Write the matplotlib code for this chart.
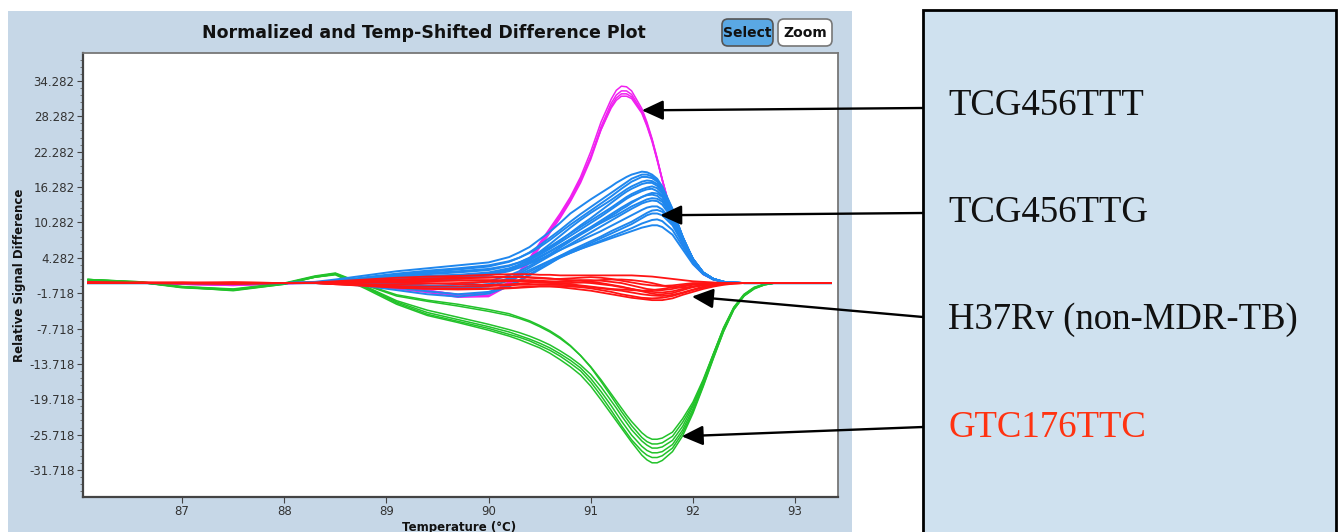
import matplotlib
matplotlib.use("Agg")
import matplotlib.pyplot as plt
from matplotlib.patches import Rectangle, FancyBboxPatch
from matplotlib.ticker import FixedLocator, AutoMinorLocator, FormatStrFormatter

# temperature grid (deg C) shared by all traces
temps = [86.08, 86.6, 87.0, 87.5, 88.0, 88.3, 88.5, 88.8, 89.1, 89.4, 89.7, 90.0, 90.2, 90.3,
         90.4, 90.5, 90.6, 90.7, 90.8, 90.9, 91.0, 91.1,
         91.2, 91.25, 91.3, 91.35, 91.4, 91.5, 91.55, 91.6, 91.65, 91.7,
         91.8, 91.9, 92.0, 92.1, 92.2, 92.3, 92.4, 92.5, 92.6, 92.7, 92.8, 93.0, 93.35]

# TCG456TTT (magenta)
m1 = [0.2, 0.0, -0.2, -0.4, -0.1, 0.1, 0.1, -0.2, -0.6, -1.2, -2.0, -1.8, 0.2, 2.0, 4.2, 6.8, 9.3, 11.8, 14.6, 18.0, 22.3, 27.3,
      31.2, 32.7, 33.4, 33.3, 32.6, 29.6, 27.3, 24.5, 21.2, 17.5,
      11.0, 6.5, 3.3, 1.5, 0.6, 0.2, 0.05, 0.0, 0.0, 0.0, 0.0, 0.0, 0.0]
m2 = [0.1, 0.0, -0.2, -0.3, -0.1, 0.0, 0.1, -0.3, -0.8, -1.4, -2.2, -2.1, -0.2, 1.6, 3.8, 6.3, 8.8, 11.3, 14.0, 17.4, 21.5, 26.5,
      30.5, 31.9, 32.6, 32.6, 32.0, 29.2, 27.0, 24.3, 21.0, 17.5,
      11.1, 6.6, 3.4, 1.5, 0.6, 0.2, 0.05, 0.0, 0.0, 0.0, 0.0, 0.0, 0.0]
m3 = [0.2, 0.1, -0.1, -0.3, 0.0, 0.1, 0.0, -0.4, -1.0, -1.6, -2.4, -2.3, -0.4, 1.4, 3.5, 6.0, 8.5, 11.0, 13.8, 17.0, 21.0, 26.0,
      30.0, 31.4, 32.1, 32.1, 31.6, 29.0, 26.8, 24.2, 21.0, 17.6,
      11.2, 6.7, 3.4, 1.6, 0.6, 0.2, 0.05, 0.0, 0.0, 0.0, 0.0, 0.0, 0.0]
m4 = [0.1, 0.0, -0.2, -0.4, -0.1, 0.0, 0.1, -0.2, -0.7, -1.3, -1.9, -1.7, 0.0, 1.8, 4.0, 6.5, 9.0, 11.5, 14.3, 17.6, 21.4, 26.0,
      29.7, 31.0, 31.7, 31.7, 31.3, 28.8, 26.6, 24.0, 20.8, 17.4,
      11.0, 6.5, 3.3, 1.5, 0.6, 0.2, 0.05, 0.0, 0.0, 0.0, 0.0, 0.0, 0.0]

# TCG456TTG (blue)
b1 = [0.0, 0.0, 0.0, -0.1, 0.0, 0.2, 0.6, 1.3, 2.0, 2.5, 3.0, 3.5, 4.4, 5.2, 6.1, 7.4, 8.7, 10.2, 11.8, 13.0, 14.2, 15.3,
      16.4, 17.0, 17.5, 18.0, 18.4, 18.9, 18.8, 18.4, 17.7, 16.4,
      12.6, 7.8, 3.9, 1.6, 0.6, 0.2, 0.05, 0.0, 0.0, 0.0, 0.0, 0.0, 0.0]
b2 = [0.0, 0.0, 0.0, 0.0, 0.0, 0.1, 0.4, 1.0, 1.6, 2.1, 2.5, 3.0, 3.7, 4.3, 5.1, 6.1, 7.3, 8.6, 9.9, 11.1, 12.3, 13.5,
      14.7, 15.35, 16.0, 16.6, 17.2, 18.0, 18.0, 17.8, 17.2, 16.0,
      12.3, 7.8, 4.0, 1.7, 0.7, 0.2, 0.05, 0.0, 0.0, 0.0, 0.0, 0.0, 0.0]
b3 = [0.0, 0.0, 0.0, 0.0, 0.0, 0.1, 0.3, 0.8, 1.3, 1.7, 2.0, 2.4, 3.0, 3.5, 4.2, 5.0, 6.0, 7.2, 8.5, 9.8, 11.0, 12.3,
      13.6, 14.25, 14.9, 15.5, 16.0, 16.8, 17.0, 17.0, 16.5, 15.5,
      12.1, 7.8, 4.1, 1.8, 0.7, 0.2, 0.05, 0.0, 0.0, 0.0, 0.0, 0.0, 0.0]
b4 = [0.0, 0.0, 0.0, 0.0, 0.0, 0.0, 0.2, 0.5, 0.9, 1.2, 1.4, 1.8, 2.5, 3.1, 3.9, 4.8, 5.8, 6.9, 8.0, 9.1, 10.2, 11.3,
      12.5, 13.1, 13.7, 14.3, 14.8, 15.6, 15.9, 16.0, 15.6, 14.8,
      11.7, 7.6, 4.1, 1.8, 0.7, 0.2, 0.05, 0.0, 0.0, 0.0, 0.0, 0.0, 0.0]
b5 = [0.0, 0.0, 0.0, 0.0, 0.0, 0.0, 0.1, 0.3, 0.5, 0.7, 0.9, 1.3, 2.0, 2.6, 3.4, 4.3, 5.3, 6.3, 7.4, 8.5, 9.5, 10.6,
      11.7, 12.25, 12.8, 13.3, 13.8, 14.6, 14.9, 15.0, 14.8, 14.1,
      11.4, 7.5, 4.1, 1.8, 0.7, 0.2, 0.05, 0.0, 0.0, 0.0, 0.0, 0.0, 0.0]
b6 = [0.0, 0.0, 0.0, 0.0, 0.0, 0.0, 0.0, -0.2, -0.5, -0.8, -0.8, -0.2, 0.8, 1.6, 2.6, 3.6, 4.6, 5.6, 6.6, 7.6, 8.6, 9.6,
      10.6, 11.1, 11.6, 12.1, 12.6, 13.5, 13.8, 14.0, 13.9, 13.3,
      10.9, 7.2, 4.0, 1.8, 0.7, 0.2, 0.05, 0.0, 0.0, 0.0, 0.0, 0.0, 0.0]
b7 = [0.0, 0.0, 0.0, 0.0, 0.0, 0.1, 0.3, 0.7, 1.0, 1.2, 1.3, 1.6, 2.2, 2.7, 3.3, 4.0, 4.8, 5.6, 6.4, 7.2, 8.0, 8.8,
      9.7, 10.15, 10.6, 11.05, 11.5, 12.4, 12.8, 13.0, 13.0, 12.5,
      10.4, 7.0, 3.9, 1.8, 0.7, 0.2, 0.05, 0.0, 0.0, 0.0, 0.0, 0.0, 0.0]
b8 = [0.0, 0.0, 0.0, 0.0, 0.0, 0.0, 0.1, 0.1, -0.1, -0.4, -0.6, -0.2, 0.7, 1.4, 2.2, 3.0, 3.8, 4.6, 5.3, 6.0, 6.8, 7.6,
      8.4, 8.8, 9.2, 9.6, 10.0, 11.0, 11.5, 11.8, 11.8, 11.5,
      9.8, 6.7, 3.8, 1.7, 0.7, 0.2, 0.05, 0.0, 0.0, 0.0, 0.0, 0.0, 0.0]
b9 = [0.0, 0.0, 0.0, 0.0, 0.0, 0.0, 0.0, -0.3, -0.8, -1.4, -1.9, -1.5, -0.4, 0.5, 1.5, 2.5, 3.4, 4.3, 5.1, 5.8, 6.5, 7.2,
      7.9, 8.25, 8.6, 8.95, 9.3, 10.1, 10.4, 10.7, 10.8, 10.5,
      9.0, 6.2, 3.5, 1.6, 0.6, 0.2, 0.05, 0.0, 0.0, 0.0, 0.0, 0.0, 0.0]
b10 = [0.0, 0.0, 0.0, 0.0, 0.0, 0.0, -0.1, -0.5, -1.2, -1.9, -2.3, -1.8, -0.6, 0.3, 1.3, 2.3, 3.3, 4.4, 5.1, 5.8, 6.4, 7.0,
       7.6, 7.9, 8.2, 8.5, 8.8, 9.4, 9.6, 9.8, 9.8, 9.5,
       8.2, 5.7, 3.2, 1.5, 0.6, 0.2, 0.05, 0.0, 0.0, 0.0, 0.0, 0.0, 0.0]
b11 = [0.0, 0.0, 0.0, 0.0, 0.0, 0.1, 0.3, 0.8, 1.4, 1.9, 2.3, 2.8, 3.6, 4.3, 5.2, 6.4, 7.7, 9.0, 10.4, 11.7, 12.9, 14.1,
       15.3, 15.9, 16.5, 17.1, 17.7, 18.4, 18.4, 18.1, 17.4, 16.2,
       12.5, 7.8, 4.0, 1.7, 0.7, 0.2, 0.05, 0.0, 0.0, 0.0, 0.0, 0.0, 0.0]
b12 = [0.0, 0.0, 0.0, 0.0, 0.0, 0.0, 0.0, 0.1, 0.2, 0.4, 0.7, 1.3, 2.3, 3.1, 4.1, 5.3, 6.6, 8.0, 9.4, 10.7, 11.9, 13.0,
       14.1, 14.7, 15.3, 15.9, 16.4, 17.2, 17.4, 17.3, 16.8, 15.8,
       12.3, 7.8, 4.0, 1.7, 0.7, 0.2, 0.05, 0.0, 0.0, 0.0, 0.0, 0.0, 0.0]
b13 = [0.0, 0.0, 0.0, 0.0, 0.0, 0.0, 0.2, 0.6, 1.1, 1.5, 1.8, 2.2, 2.9, 3.5, 4.3, 5.2, 6.2, 7.3, 8.4, 9.5, 10.6, 11.7,
       12.8, 13.4, 14.0, 14.6, 15.1, 15.9, 16.2, 16.4, 16.1, 15.2,
       12.0, 7.7, 4.1, 1.8, 0.7, 0.2, 0.05, 0.0, 0.0, 0.0, 0.0, 0.0, 0.0]
b14 = [0.0, 0.0, 0.0, 0.0, 0.0, 0.0, -0.1, -0.3, -0.5, -0.5, -0.3, 0.3, 1.3, 2.0, 2.9, 3.9, 4.9, 6.0, 7.1, 8.2, 9.2, 10.3,
       11.4, 11.9, 12.5, 13.0, 13.6, 14.6, 15.0, 15.3, 15.2, 14.6,
       11.6, 7.5, 4.1, 1.8, 0.7, 0.2, 0.05, 0.0, 0.0, 0.0, 0.0, 0.0, 0.0]
b15 = [0.0, 0.0, 0.0, 0.0, 0.0, 0.0, 0.2, 0.5, 0.8, 1.0, 1.1, 1.5, 2.2, 2.8, 3.6, 4.5, 5.4, 6.4, 7.4, 8.4, 9.3, 10.2,
       11.1, 11.5, 12.0, 12.5, 13.0, 13.8, 14.2, 14.4, 14.3, 13.8,
       11.1, 7.3, 4.0, 1.8, 0.7, 0.2, 0.05, 0.0, 0.0, 0.0, 0.0, 0.0, 0.0]
b16 = [0.0, 0.0, 0.0, 0.0, 0.0, 0.0, 0.0, -0.1, -0.3, -0.6, -0.9, -0.6, 0.4, 1.1, 1.9, 2.8, 3.7, 4.6, 5.5, 6.3, 7.1, 7.9,
       8.8, 9.2, 9.6, 10.0, 10.4, 11.4, 11.9, 12.3, 12.4, 12.1,
       10.1, 6.9, 3.8, 1.7, 0.7, 0.2, 0.05, 0.0, 0.0, 0.0, 0.0, 0.0, 0.0]

# H37Rv (red)
r1 = [0.1, 0.0, 0.0, 0.1, 0.0, 0.1, 0.3, 0.6, 0.9, 1.1, 1.2, 1.4, 1.5, 1.5, 1.5, 1.4, 1.4, 1.3, 1.3, 1.3, 1.3, 1.3,
      1.3, 1.3, 1.3, 1.3, 1.3, 1.2, 1.15, 1.1, 1.0, 0.9,
      0.7, 0.5, 0.3, 0.2, 0.1, 0.0, 0.0, 0.0, 0.0, 0.0, 0.0, 0.0, 0.0]
r2 = [0.0, 0.1, 0.1, 0.0, 0.0, 0.0, 0.1, 0.3, 0.5, 0.6, 0.8, 0.9, 1.0, 1.0, 0.9, 0.8, 0.7, 0.7, 0.8, 0.9, 1.0, 0.9,
      0.7, 0.55, 0.4, 0.25, 0.1, -0.2, -0.3, -0.4, -0.45, -0.5,
      -0.4, -0.2, 0.0, 0.0, 0.0, 0.0, 0.0, 0.0, 0.0, 0.0, 0.0, 0.0, 0.0]
r3 = [0.1, 0.0, -0.1, -0.1, 0.0, 0.0, 0.0, 0.1, 0.2, 0.3, 0.4, 0.4, 0.5, 0.5, 0.5, 0.4, 0.3, 0.2, 0.2, 0.1, 0.0, -0.2,
      -0.4, -0.55, -0.7, -0.85, -1.0, -1.3, -1.4, -1.5, -1.55, -1.6,
      -1.4, -1.0, -0.6, -0.3, -0.1, 0.0, 0.0, 0.0, 0.0, 0.0, 0.0, 0.0, 0.0]
r4 = [0.0, 0.0, 0.0, 0.1, 0.0, 0.0, -0.1, -0.2, -0.2, -0.1, 0.0, 0.2, 0.3, 0.3, 0.3, 0.2, 0.1, 0.0, 0.0, 0.1, 0.3, 0.5,
      0.6, 0.6, 0.6, 0.55, 0.5, 0.3, 0.15, 0.0, -0.2, -0.4,
      -0.7, -0.8, -0.6, -0.3, -0.1, 0.0, 0.0, 0.0, 0.0, 0.0, 0.0, 0.0, 0.0]
r5 = [0.1, 0.0, 0.0, -0.1, 0.0, 0.0, -0.1, -0.3, -0.5, -0.6, -0.6, -0.5, -0.4, -0.3, -0.3, -0.2, -0.2, -0.3, -0.4, -0.5, -0.7, -0.9,
      -1.1, -1.2, -1.3, -1.45, -1.6, -1.9, -2.0, -2.1, -2.15, -2.2,
      -2.0, -1.6, -1.1, -0.6, -0.3, -0.1, 0.0, 0.0, 0.0, 0.0, 0.0, 0.0, 0.0]
r6 = [0.0, 0.1, 0.0, -0.1, 0.0, 0.0, 0.0, 0.1, 0.3, 0.4, 0.5, 0.5, 0.4, 0.3, 0.2, 0.1, 0.0, -0.1, -0.2, -0.4, -0.6, -0.8,
      -1.0, -1.05, -1.1, -1.15, -1.2, -1.3, -1.25, -1.2, -1.1, -1.0,
      -0.7, -0.4, -0.2, -0.1, 0.0, 0.0, 0.0, 0.0, 0.0, 0.0, 0.0, 0.0, 0.0]
r7 = [0.1, 0.0, 0.0, 0.0, 0.0, 0.0, -0.2, -0.4, -0.7, -0.9, -1.0, -0.9, -0.8, -0.7, -0.6, -0.5, -0.5, -0.5, -0.6, -0.7, -0.9, -1.2,
      -1.5, -1.7, -1.9, -2.05, -2.2, -2.5, -2.55, -2.6, -2.55, -2.5,
      -2.2, -1.7, -1.2, -0.8, -0.4, -0.2, -0.1, 0.0, 0.0, 0.0, 0.0, 0.0, 0.0]
r8 = [0.0, 0.0, 0.1, 0.0, 0.0, 0.0, -0.2, -0.5, -0.8, -1.0, -1.1, -1.0, -0.9, -0.8, -0.7, -0.6, -0.6, -0.7, -0.9, -1.1, -1.3, -1.6,
      -1.9, -2.05, -2.2, -2.35, -2.5, -2.7, -2.8, -2.9, -2.9, -2.9,
      -2.6, -2.0, -1.5, -1.0, -0.6, -0.3, -0.1, 0.0, 0.0, 0.0, 0.0, 0.0, 0.0]
r9 = [0.0, 0.0, 0.0, 0.1, 0.0, 0.0, 0.1, 0.2, 0.1, 0.0, -0.2, -0.3, -0.2, -0.1, 0.0, 0.1, 0.2, 0.3, 0.4, 0.5, 0.5, 0.4,
      0.2, 0.1, 0.0, -0.2, -0.4, -0.8, -1.0, -1.1, -1.2, -1.2,
      -1.0, -0.6, -0.3, -0.1, 0.0, 0.0, 0.0, 0.0, 0.0, 0.0, 0.0, 0.0, 0.0]
r10 = [0.1, 0.0, 0.0, 0.0, 0.0, 0.0, 0.2, 0.4, 0.6, 0.8, 0.9, 1.0, 1.1, 1.1, 1.0, 0.9, 0.8, 0.6, 0.5, 0.4, 0.2, 0.0,
       -0.3, -0.45, -0.6, -0.8, -1.0, -1.4, -1.6, -1.8, -1.9, -1.9,
       -1.7, -1.2, -0.7, -0.4, -0.2, -0.1, 0.0, 0.0, 0.0, 0.0, 0.0, 0.0, 0.0]

# GTC176TTC (green)
g1 = [0.6, 0.1, -0.7, -1.1, -0.1, 1.1, 1.6, -0.4, -2.2, -3.1, -3.9, -4.8, -5.5, -6.0, -6.6, -7.4, -8.3, -9.4, -10.7, -12.3, -14.2, -16.4,
      -18.8, -20.0, -21.2, -22.4, -23.5, -25.4, -26.1, -26.5, -26.5, -26.3,
      -25.3, -23.0, -20.2, -16.4, -12.0, -7.6, -4.2, -2.0, -0.8, -0.2, 0.0, 0.0, 0.0]
g2 = [0.5, 0.1, -0.6, -1.0, 0.0, 1.2, 1.7, -0.3, -2.0, -2.9, -3.6, -4.5, -5.2, -5.8, -6.4, -7.2, -8.1, -9.2, -10.6, -12.3, -14.3, -16.7,
      -19.2, -20.5, -21.8, -23.0, -24.2, -26.2, -26.9, -27.3, -27.3, -27.1,
      -26.0, -23.6, -20.6, -16.7, -12.1, -7.6, -4.1, -1.9, -0.7, -0.2, 0.0, 0.0, 0.0]
g3 = [0.6, 0.2, -0.6, -1.1, -0.1, 1.0, 1.5, -0.6, -3.0, -4.6, -5.8, -7.0, -7.9, -8.4, -9.0, -9.7, -10.5, -11.5, -12.6, -13.9, -15.5, -17.6,
      -20.0, -21.2, -22.5, -23.7, -24.9, -26.8, -27.5, -28.0, -28.0, -27.8,
      -26.7, -24.3, -20.9, -16.7, -12.1, -7.8, -4.2, -2.0, -0.8, -0.2, 0.0, 0.0, 0.0]
g4 = [0.6, 0.1, -0.7, -1.2, -0.1, 1.1, 1.6, -0.7, -3.2, -5.0, -6.2, -7.4, -8.3, -8.9, -9.5, -10.2, -11.0, -12.0, -13.1, -14.4, -16.2, -18.4,
      -20.8, -22.1, -23.4, -24.6, -25.8, -27.7, -28.4, -28.8, -28.8, -28.6,
      -27.4, -24.9, -21.4, -17.1, -12.4, -8.0, -4.4, -2.1, -0.9, -0.3, 0.0, 0.0, 0.0]
g5 = [0.5, 0.1, -0.8, -1.2, -0.2, 1.0, 1.5, -0.8, -3.4, -5.3, -6.5, -7.7, -8.7, -9.2, -9.8, -10.6, -11.4, -12.4, -13.6, -14.9, -16.8, -19.1,
      -21.6, -22.9, -24.2, -25.4, -26.6, -28.5, -29.2, -29.6, -29.6, -29.3,
      -28.0, -25.4, -21.8, -17.4, -12.7, -8.2, -4.5, -2.2, -0.9, -0.3, 0.0, 0.0, 0.0]
g6 = [0.6, 0.2, -0.7, -1.3, -0.2, 1.0, 1.4, -1.0, -3.6, -5.5, -6.7, -8.0, -9.0, -9.6, -10.3, -11.0, -11.9, -13.0, -14.2, -15.6, -17.5, -19.8,
      -22.2, -23.4, -24.6, -25.8, -27.0, -29.2, -30.0, -30.5, -30.5, -30.1,
      -28.6, -25.9, -22.1, -17.6, -12.8, -8.2, -4.5, -2.2, -1.0, -0.3, 0.0, 0.0, 0.0]

magenta = [m1, m2, m3, m4]
blue = [b1, b11, b2, b12, b3, b13, b4, b14, b5, b15, b6, b7, b16, b8, b9, b10]
red = [r1, r2, r3, r4, r5, r6, r7, r8, r9, r10]
green = [g1, g2, g3, g4, g5, g6]

y_ticks = [-31.718, -25.718, -19.718, -13.718, -7.718, -1.718, 4.282, 10.282, 16.282, 22.282, 28.282, 34.282]
x_ticks = [87, 88, 89, 90, 91, 92, 93]

labels = ["TCG456TTT", "TCG456TTG", "H37Rv (non-MDR-TB)", "GTC176TTC"]
label_colors = ["#111111", "#111111", "#111111", "#ff3311"]
# where each arrow points (temp, signal)
arrow_tips = [(91.50, 29.3), (91.68, 11.5), (91.99, -2.3), (91.89, -26.0)]

W, H = 1338, 532
fig = plt.figure(figsize=(W / 100, H / 100), dpi=100)

# background layer in pixel units (y down)
bg = fig.add_axes([0, 0, 1, 1], zorder=0)
bg.set_xlim(0, W)
bg.set_ylim(H, 0)
bg.axis('off')

bg.add_patch(Rectangle((8, 11), 844, 530, facecolor='#c6d7e7', edgecolor='none'))
bg.add_patch(Rectangle((923, 9.5), 413, 540, facecolor='#cfe1ef', edgecolor='black', lw=2))

bg.text(424, 33, "Normalized and Temp-Shifted Difference Plot", ha='center', va='center',
        fontsize=12.5, fontweight='bold', color='#111111')

# Select / Zoom buttons
bg.add_patch(FancyBboxPatch((722, 19), 51, 27, boxstyle='round,pad=0,rounding_size=6',
                            facecolor='#5aa8e4', edgecolor='#555555', lw=1.2))
bg.add_patch(FancyBboxPatch((778, 19), 54, 27, boxstyle='round,pad=0,rounding_size=6',
                            facecolor='white', edgecolor='#777777', lw=1.2))
bg.text(747.5, 33, "Select", ha='center', va='center', fontsize=10, fontweight='bold', color='#111111')
bg.text(805, 33, "Zoom", ha='center', va='center', fontsize=10, fontweight='bold', color='#111111')

bg.text(20, 275, "Relative Signal Difference", rotation=90, ha='center', va='center',
        fontsize=8.5, fontweight='bold', color='#111111')
bg.text(459, 527, "Temperature (\u00b0C)", ha='center', va='center',
        fontsize=8.5, fontweight='bold', color='#111111')

baselines = [115, 222, 329, 437]
for lab, col, yb in zip(labels, label_colors, baselines):
    bg.text(948, yb, lab, ha='left', va='baseline', fontsize=26.5,
            family='Liberation Serif', color=col)

# main plot
ax = fig.add_axes([83 / W, 1 - 497 / H, (838 - 83) / W, (497 - 53) / H], zorder=1)
for curve in magenta:
    ax.plot(temps, curve, color='#f020f0', lw=1.1, solid_joinstyle='round')
for curve in green:
    ax.plot(temps, curve, color='#22c22a', lw=1.1, solid_joinstyle='round')
for curve in blue:
    ax.plot(temps, curve, color='#1f87ee', lw=1.4, solid_joinstyle='round')
for curve in red:
    ax.plot(temps, curve, color='#ff1414', lw=1.3, solid_joinstyle='round')

ax.set_xlim(86.03, 93.42)
ax.set_ylim(-36.3, 39.03)
ax.yaxis.set_major_locator(FixedLocator(y_ticks))
ax.yaxis.set_major_formatter(FormatStrFormatter('%.3f'))
ax.yaxis.set_minor_locator(AutoMinorLocator(5))
ax.xaxis.set_major_locator(FixedLocator(x_ticks))
ax.tick_params(axis='both', which='major', length=4, width=0.8, color='#444444',
               labelsize=8.5, labelcolor='#333333', pad=2)
ax.tick_params(axis='y', which='minor', length=2, width=0.6, color='#666666')
for side in ['left', 'bottom']:
    ax.spines[side].set_color('#444444')
    ax.spines[side].set_linewidth(1.6)
for side in ['top', 'right']:
    ax.spines[side].set_color('#777777')
    ax.spines[side].set_linewidth(1.3)

starts = [(923, 108), (923, 213), (923, 317), (923, 427)]
for tip, st in zip(arrow_tips, starts):
    ax.annotate("", xy=tip, xycoords='data', xytext=st, textcoords=bg.transData,
                arrowprops=dict(arrowstyle='-|>,head_length=1.3,head_width=0.6',
                                mutation_scale=10, color='black', lw=1.7,
                                shrinkA=0, shrinkB=0),
                annotation_clip=False)

fig.savefig("out.png", dpi=100, facecolor='white')
